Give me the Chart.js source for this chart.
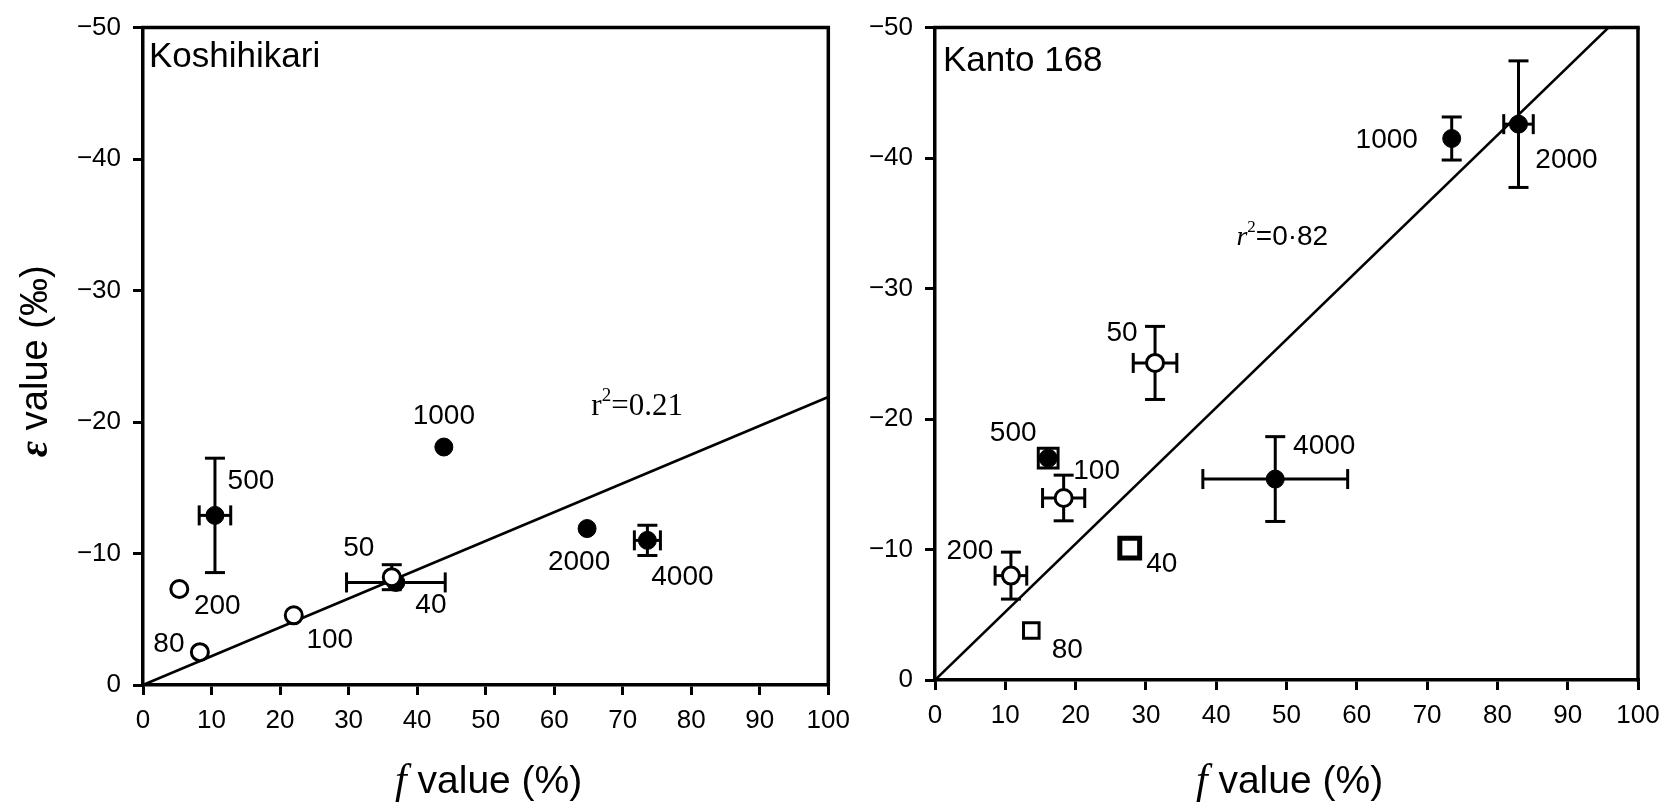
<!DOCTYPE html>
<html>
<head>
<meta charset="utf-8">
<script src="https://cdn.jsdelivr.net/npm/chart.js@4.4.0/dist/chart.umd.min.js"></script>
<style>
  html, body { margin: 0; padding: 0; background: #fff; }
  #wrap { position: relative; width: 1671px; height: 806px; overflow: hidden; }
  .pane { position: absolute; top: 0; height: 806px; }
  #left { left: 0; width: 860px; }
  #right { left: 860px; width: 811px; }
</style>
</head>
<body>
<div id="wrap">
  <div class="pane" id="left"><canvas id="kChart"></canvas></div>
  <div class="pane" id="right"><canvas id="nChart"></canvas></div>
</div>
<script>
// Koshihikari
var kTags = ["40", "50", "80", "100", "200", "500", "1000", "2000", "4000"];
var kF    = [36.9, 36.3, 8.3, 22.0, 5.3, 10.5, 43.9, 64.8, 73.6];
var kE    = [-7.8, -8.2, -2.5, -5.3, -7.3, -12.9, -18.1, -11.9, -11.0];
var kFerr = [7.2, 0, 0, 0, 0, 2.3, 0, 0, 1.9];
var kEerr = [0, 0.95, 0, 0, 0, 4.35, 0, 0, 1.15];
var kMark = ["filled", "open", "open", "open", "open", "filled", "filled", "filled", "filled"];
var kFitF = [0, 100];
var kFitE = [0, -21.9];

// Kanto 168
var nTags = ["40", "50", "80", "100", "200", "500", "1000", "2000", "4000"];
var nF    = [27.7, 31.3, 13.7, 18.3, 10.8, 16.1, 73.5, 83.0, 48.4];
var nE    = [-10.1, -24.3, -3.8, -13.95, -8.0, -17.0, -41.5, -42.6, -15.4];
var nFerr = [0, 3.1, 0, 3.0, 2.25, 0, 0, 2.1, 10.3];
var nEerr = [0, 2.8, 0, 1.75, 1.8, 0, 1.65, 4.85, 3.25];
var nMark = ["box", "open", "square", "open", "open", "boxed", "filled", "filled", "filled"];
var nFitF = [0, 95.8];
var nFitE = [0, -50];

var fTicks = [0, 10, 20, 30, 40, 50, 60, 70, 80, 90, 100];
var eTicks = [0, -10, -20, -30, -40, -50];

// where each concentration tag sits relative to its point (px)
var kTagDx = [35, -33, -31, 36, 38, 36, 0, -8, 35];
var kTagDy = [23, -29, -8, 25, 17, -34, -31, 34, 37];
var nTagDx = [32, -33, 36, 33, -41, -35, -65, 48, 49];
var nTagDy = [16, -30, 20, -27, -24, -25, 2, 36, -33];

var SANS = "'Liberation Sans', Arial, Helvetica, sans-serif";
var SERIF = "'Liberation Serif', 'Times New Roman', serif";
Chart.defaults.font.family = SANS;
Chart.defaults.color = "#000";

function pick(arrF, arrE, marks, kinds) {
    var out = [];
    for (var i = 0; i < arrF.length; i++) {
        if (kinds.indexOf(marks[i]) >= 0) out.push({ x: arrF[i], y: arrE[i] });
    }
    return out;
}

function line(ctx, x1, y1, x2, y2) {
    ctx.beginPath();
    ctx.moveTo(x1, y1);
    ctx.lineTo(x2, y2);
    ctx.stroke();
}

function makeChart(id, d) {
    var datasets = [
        { // open circles on top
            data: pick(d.f, d.e, d.mark, ["open"]),
            pointStyle: "circle", pointRadius: 8.5,
            backgroundColor: "#fff", borderColor: "#000", borderWidth: 3
        },
        {
            data: pick(d.f, d.e, d.mark, ["filled", "boxed"]),
            pointStyle: "circle", pointRadius: 9,
            backgroundColor: "#000", borderColor: "#000", borderWidth: 1
        },
        {
            data: pick(d.f, d.e, d.mark, ["boxed"]),
            pointStyle: "rect", pointRadius: 14,
            backgroundColor: "rgba(0,0,0,0)", borderColor: "#000", borderWidth: 3
        },
        {
            data: pick(d.f, d.e, d.mark, ["box"]),
            pointStyle: "rect", pointRadius: 14,
            backgroundColor: "#fff", borderColor: "#000", borderWidth: 5
        },
        {
            data: pick(d.f, d.e, d.mark, ["square"]),
            pointStyle: "rect", pointRadius: 11,
            backgroundColor: "#fff", borderColor: "#000", borderWidth: 3
        },
        { // regression line
            type: "line",
            data: [{ x: d.fitF[0], y: d.fitE[0] }, { x: d.fitF[1], y: d.fitE[1] }],
            borderColor: "#000", borderWidth: 2.6, pointRadius: 0, fill: false
        }
    ];

    var marks = {
        id: "marks",
        beforeDatasetsDraw: function (chart) {
            var ctx = chart.ctx, xs = chart.scales.x, ys = chart.scales.y, cap = 10;
            ctx.save();
            ctx.strokeStyle = "#000";
            ctx.lineWidth = 3;
            for (var i = 0; i < d.f.length; i++) {
                var px = xs.getPixelForValue(d.f[i]), py = ys.getPixelForValue(d.e[i]);
                if (d.eerr[i] > 0) {
                    var y1 = ys.getPixelForValue(d.e[i] - d.eerr[i]);
                    var y2 = ys.getPixelForValue(d.e[i] + d.eerr[i]);
                    line(ctx, px, y1, px, y2);
                    line(ctx, px - cap, y1, px + cap, y1);
                    line(ctx, px - cap, y2, px + cap, y2);
                }
                if (d.ferr[i] > 0) {
                    var x1 = xs.getPixelForValue(d.f[i] - d.ferr[i]);
                    var x2 = xs.getPixelForValue(d.f[i] + d.ferr[i]);
                    line(ctx, x1, py, x2, py);
                    line(ctx, x1, py - cap, x1, py + cap);
                    line(ctx, x2, py - cap, x2, py + cap);
                }
            }
            ctx.restore();
        },
        afterDatasetsDraw: function (chart) {
            var ctx = chart.ctx, xs = chart.scales.x, ys = chart.scales.y, a = chart.chartArea;
            ctx.save();
            // frame on top and right
            ctx.strokeStyle = "#000";
            ctx.lineWidth = 3.5;
            line(ctx, a.left - 1.75, a.top, a.right + 1.75, a.top);
            line(ctx, a.right, a.top, a.right, a.bottom + 1.75);

            ctx.fillStyle = "#000";
            ctx.textAlign = "center";
            ctx.textBaseline = "middle";
            ctx.font = "28px " + SANS;
            for (var i = 0; i < d.tags.length; i++) {
                ctx.fillText(d.tags[i],
                    xs.getPixelForValue(d.f[i]) + d.dx[i],
                    ys.getPixelForValue(d.e[i]) + d.dy[i]);
            }

            ctx.textAlign = "left";
            ctx.font = "35px " + SANS;
            ctx.fillText(d.name, a.left + d.nameDx, a.top + d.nameDy);

            // r squared note
            var rs = d.rSize;
            var rx = xs.getPixelForValue(d.rAt[0]), ry = ys.getPixelForValue(d.rAt[1]);
            ctx.textBaseline = "alphabetic";
            ctx.font = (d.rItalic ? "italic " : "") + rs + "px " + SERIF;
            var w1 = ctx.measureText("r").width;
            ctx.font = Math.round(rs * 0.6) + "px " + SERIF;
            var w2 = ctx.measureText("2").width;
            ctx.font = rs + "px " + d.rFont;
            var w3 = ctx.measureText(d.rText).width;
            var sx = rx - (w1 + w2 + w3) / 2, by = ry + 10;
            ctx.font = (d.rItalic ? "italic " : "") + rs + "px " + SERIF;
            ctx.fillText("r", sx, by);
            ctx.font = Math.round(rs * 0.6) + "px " + SERIF;
            ctx.fillText("2", sx + w1, by - rs * 0.45);
            ctx.font = rs + "px " + d.rFont;
            ctx.fillText(d.rText, sx + w1 + w2, by);

            // x title: italic f, then the rest
            ctx.textBaseline = "middle";
            var cx = (a.left + a.right) / 2 + 3, cy = 782;
            ctx.font = "italic 42px " + SERIF;
            var fw = ctx.measureText("f").width;
            ctx.font = "39px " + SANS;
            var tw = ctx.measureText(" value (%)").width;
            var x0 = cx - (fw + tw) / 2;
            ctx.font = "italic 42px " + SERIF;
            ctx.fillText("f", x0, cy);
            ctx.font = "39px " + SANS;
            ctx.fillText(" value (%)", x0 + fw, cy);

            if (d.yTitle) {
                ctx.translate(37, (a.top + a.bottom) / 2 + 5);
                ctx.rotate(-Math.PI / 2);
                ctx.font = "italic bold 40px " + SERIF;
                var ew = ctx.measureText("\u03b5").width;
                ctx.font = "38px " + SANS;
                var vw = ctx.measureText(" value (\u2030)").width;
                var y0 = -(ew + vw) / 2;
                ctx.font = "italic bold 40px " + SERIF;
                ctx.fillText("\u03b5", y0, 0);
                ctx.font = "38px " + SANS;
                ctx.fillText(" value (\u2030)", y0 + ew, 0);
            }
            ctx.restore();
        }
    };

    return new Chart(document.getElementById(id), {
        type: "scatter",
        data: { datasets: datasets },
        plugins: [marks],
        options: {
            responsive: true,
            maintainAspectRatio: false,
            animation: false,
            layout: { padding: { top: d.top, right: d.right, left: 0, bottom: 0 } },
            plugins: { legend: { display: false }, tooltip: { enabled: false } },
            scales: {
                x: {
                    type: "linear", min: 0, max: 100,
                    afterBuildTicks: function (s) { s.ticks = fTicks.map(function (v) { return { value: v }; }); },
                    afterFit: function (s) { s.height = d.xHeight; },
                    grid: { display: true, drawOnChartArea: false, drawTicks: true, tickLength: 10, color: "#000", lineWidth: 3 },
                    border: { display: true, color: "#000", width: 3.5 },
                    ticks: { font: { size: 26 }, color: "#000", padding: 10, maxRotation: 0 }
                },
                y: {
                    type: "linear", min: -50, max: 0, reverse: true,
                    afterBuildTicks: function (s) { s.ticks = eTicks.map(function (v) { return { value: v }; }); },
                    afterFit: function (s) { s.width = d.yWidth; },
                    grid: { display: true, drawOnChartArea: false, drawTicks: true, tickLength: 10, color: "#000", lineWidth: 3 },
                    border: { display: true, color: "#000", width: 3.5 },
                    ticks: {
                        font: { size: 26 }, color: "#000", padding: 12,
                        callback: function (v) { return v < 0 ? "\u2212" + Math.abs(v) : "" + v; }
                    }
                }
            }
        }
    });
}

var kChart = makeChart("kChart", {
    tags: kTags, f: kF, e: kE, ferr: kFerr, eerr: kEerr, mark: kMark,
    fitF: kFitF, fitE: kFitE, dx: kTagDx, dy: kTagDy,
    name: "Koshihikari", nameDx: 6, nameDy: 30,
    rAt: [72.1, -21.3], rText: "=0.21", rFont: SERIF, rItalic: false, rSize: 31,
    yTitle: true, top: 22, right: 14, xHeight: 121, yWidth: 143
});

var nChart = makeChart("nChart", {
    tags: nTags, f: nF, e: nE, ferr: nFerr, eerr: nEerr, mark: nMark,
    fitF: nFitF, fitE: nFitE, dx: nTagDx, dy: nTagDy,
    name: "Kanto 168", nameDx: 8, nameDy: 34,
    rAt: [49.4, -34.1], rText: "=0\u00b782", rFont: SANS, rItalic: true, rSize: 28,
    yTitle: false, top: 17, right: 33, xHeight: 126, yWidth: 75
});
</script>
</body>
</html>
